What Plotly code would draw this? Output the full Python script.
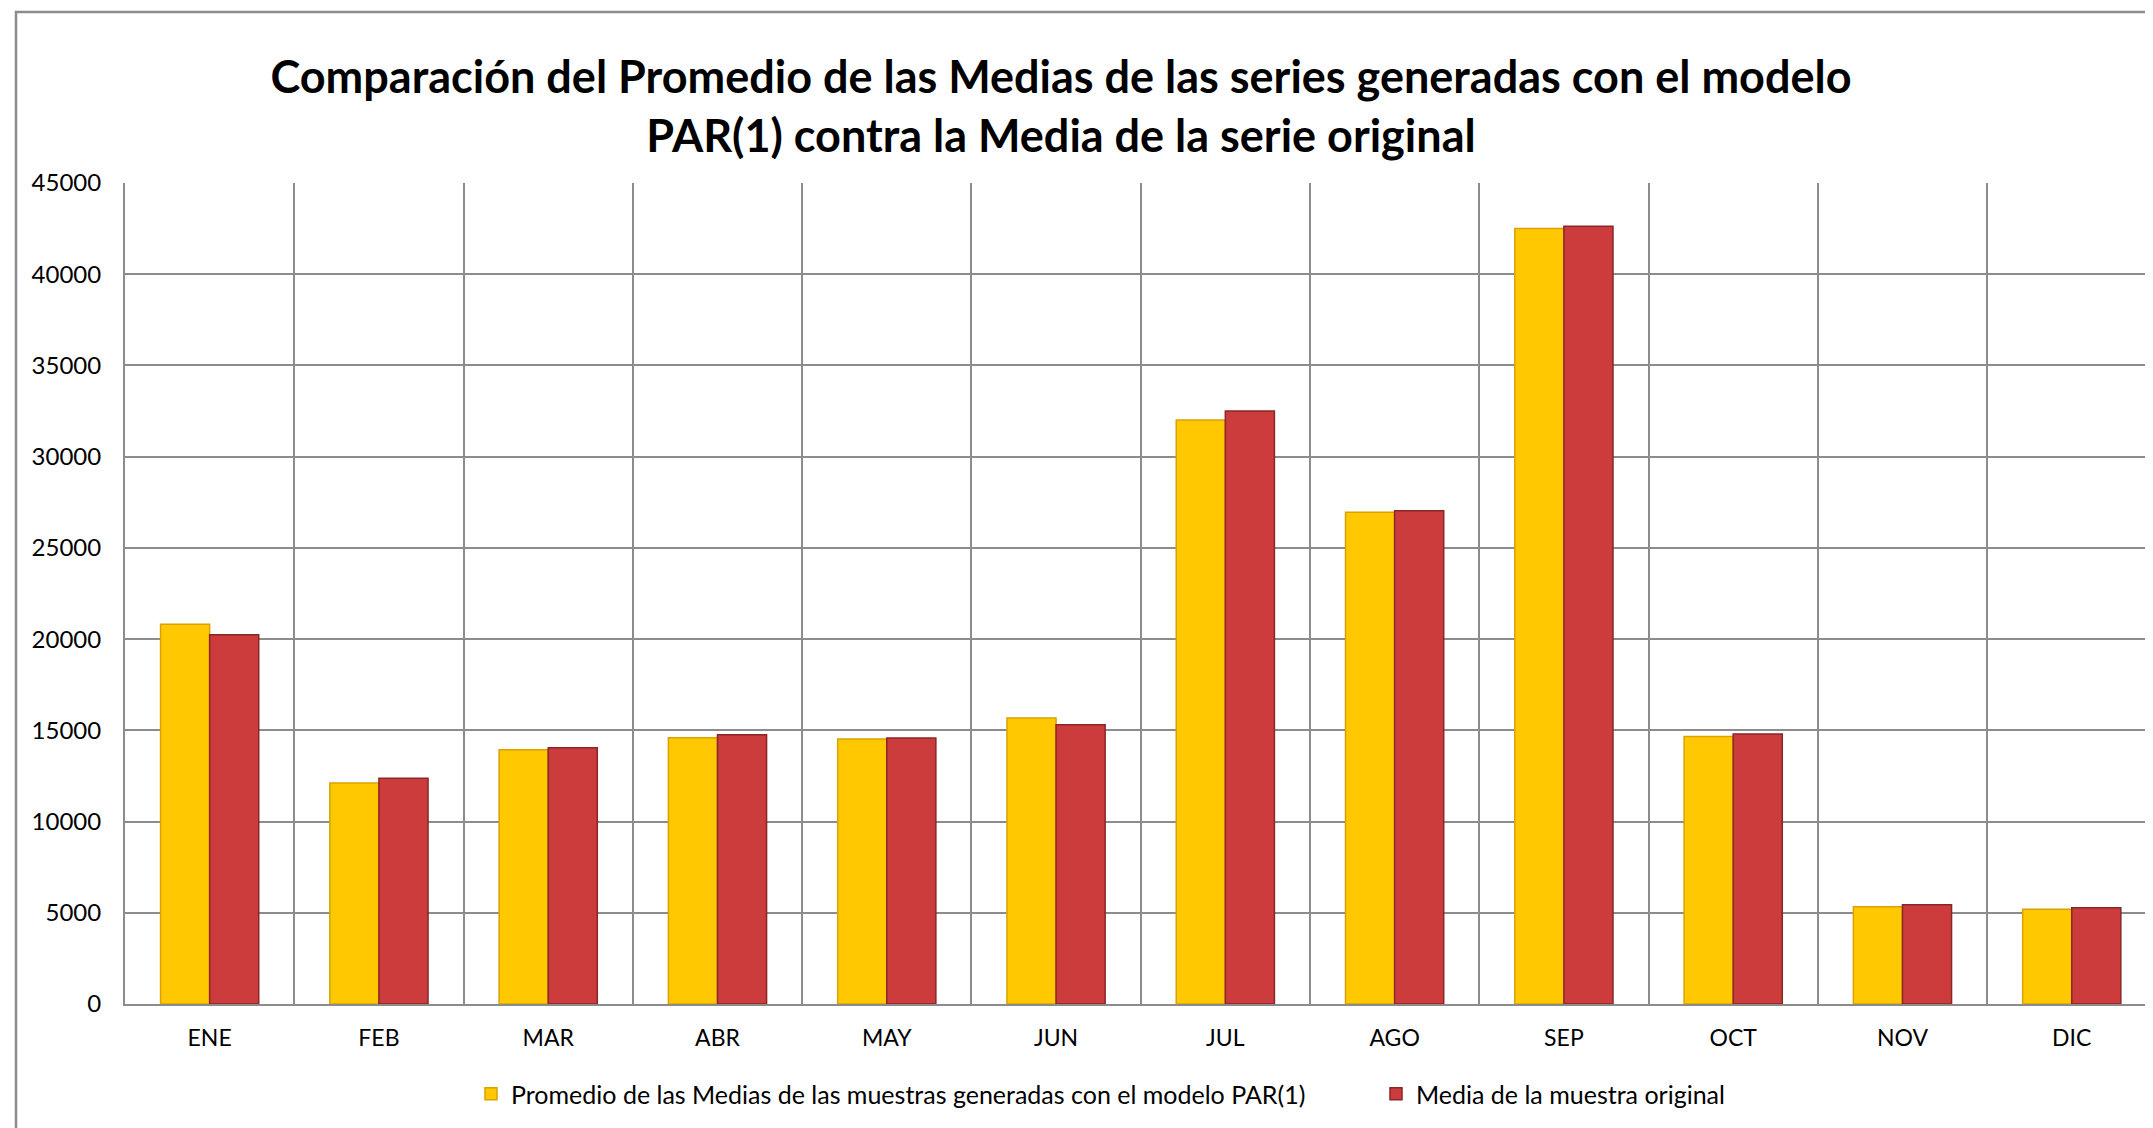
import plotly.graph_objects as go

# monthly means
meses = ['ENE', 'FEB', 'MAR', 'ABR', 'MAY', 'JUN',
         'JUL', 'AGO', 'SEP', 'OCT', 'NOV', 'DIC']
promedio_par1 = [20810, 12110, 13930, 14600, 14530, 15680,
                 32010, 26950, 42500, 14660, 5330, 5200]
media_original = [20240, 12380, 14040, 14760, 14580, 15310,
                  32500, 27040, 42630, 14800, 5440, 5270]

nombre_par1 = 'Promedio de las Medias de las muestras generadas con el modelo PAR(1)'
nombre_orig = 'Media de la muestra original'
titulo = ('Comparación del Promedio de las Medias de las series generadas con el modelo'
          '<br>PAR(1) contra la Media de la serie original')

# page body has an 8px margin, so the figure is 8px smaller than the window
W, H = 2145, 1120
ml, mr, mt, mb = 117, 0, 175, 124
fuente = 'Lato, Noto Sans, Liberation Sans, sans-serif'
gris = '#8c8c8c'

fig = go.Figure()
fig.add_trace(go.Bar(x=meses, y=promedio_par1, name=nombre_par1,
                     marker=dict(color='#ffc800',
                                 line=dict(color='#d9a200', width=1.5))))
fig.add_trace(go.Bar(x=meses, y=media_original, name=nombre_orig,
                     marker=dict(color='#cc3c3c',
                                 line=dict(color='#8a2626', width=1.5))))

# outer chart frame (runs past the right/bottom edges like the reference)
pw, ph = W - ml - mr, H - mt - mb
fig.add_shape(type='rect', xref='paper', yref='paper',
              x0=(8 - ml) / pw, x1=1.02,
              y0=-(mb + 20) / ph, y1=(ph + mt - 4) / ph,
              line=dict(color=gris, width=2.5), layer='below')

fig.update_layout(
    width=W, height=H,
    margin=dict(l=ml, r=mr, t=mt, b=mb, autoexpand=False),
    paper_bgcolor='white', plot_bgcolor='white',
    barmode='group', bargap=0.42, bargroupgap=0,
    title=dict(text=titulo, x=1053 / W, xanchor='center',
               y=1 - 85 / H, yanchor='middle',
               font=dict(family=fuente, size=45, color='black', weight='bold')),
    font=dict(family=fuente, size=23, color='black'),
    legend=dict(orientation='h', x=(1368 - ml) / pw, xanchor='center',
                y=-(1086 - (H - mb)) / ph, yanchor='middle',
                font=dict(size=25), entrywidth=860, entrywidthmode='pixels'),
)

# the plot area runs a few pixels past the right edge in the reference
fig.update_xaxes(type='category', tickson='boundaries', range=[-0.5, 11.48],
                 showgrid=True, gridcolor=gris, gridwidth=2,
                 showline=True, linecolor=gris, linewidth=2,
                 ticks='', tickfont=dict(size=23), ticklabelstandoff=12)
fig.update_yaxes(range=[0, 45000], dtick=5000, tickformat='d',
                 showgrid=True, gridcolor=gris, gridwidth=2,
                 showline=True, linecolor=gris, linewidth=2,
                 zeroline=False, ticks='', tickfont=dict(size=24),
                 ticklabelstandoff=17)

fig.write_html('out.html')
